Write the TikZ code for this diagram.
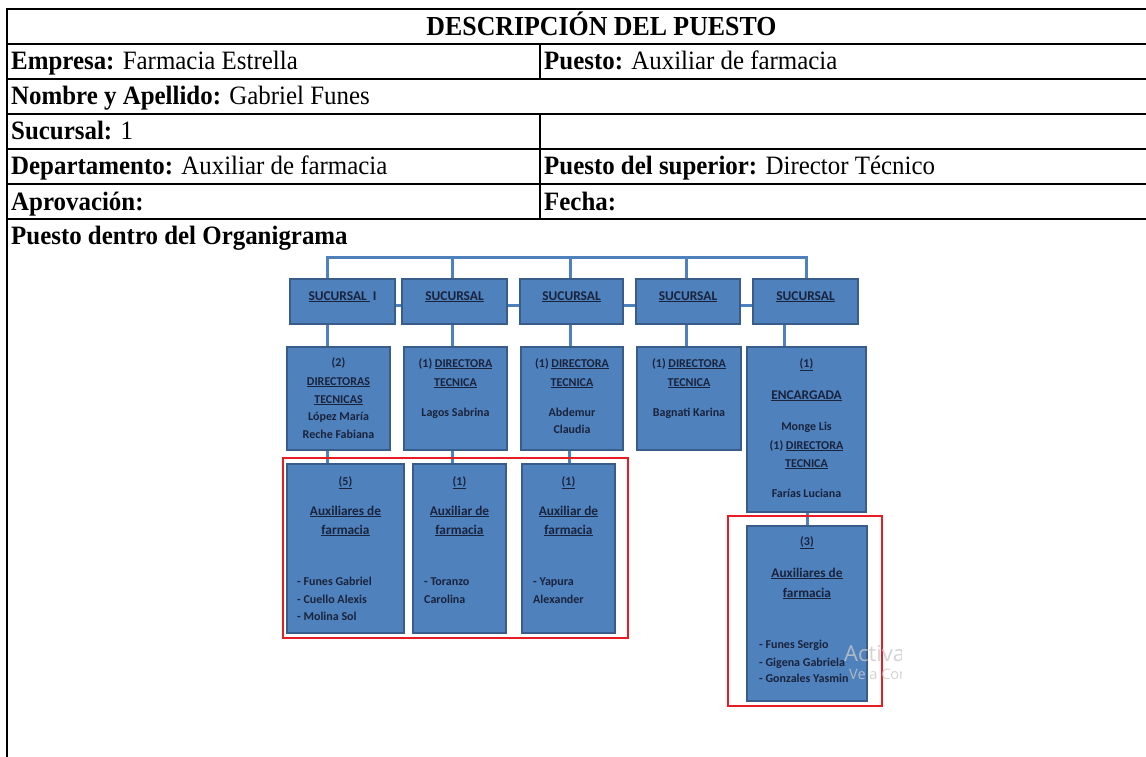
\documentclass[tikz,border=0pt]{standalone}
\usepackage{fontspec}
\setmainfont[FakeStretch=0.94]{Liberation Serif}
\newfontfamily\calfont{Carlito}
\newfontfamily\wmfont{Open Sans}
\definecolor{boxfill}{RGB}{79,129,189}
\definecolor{boxedge}{RGB}{56,93,138}
\definecolor{conncol}{RGB}{79,129,189}
\definecolor{boxtext}{RGB}{25,35,60}
\definecolor{redline}{RGB}{232,28,36}
\definecolor{wmgray}{RGB}{200,200,200}
\newcommand{\tabfont}{\fontsize{26.5}{26.5}\selectfont}
\newcommand{\titfont}{\fontsize{27.5}{27.5}\selectfont}
\newcommand{\orgfont}{\calfont\bfseries\fontsize{12}{12}\selectfont}
\newcommand{\orgbig}{\calfont\bfseries\fontsize{13.3}{13.3}\selectfont}
\newcommand{\orgtop}{\calfont\bfseries\fontsize{13.4}{13.4}\selectfont}
\begin{document}
\begin{tikzpicture}[x=1pt,y=-1pt,
  grid/.style={line width=1.6pt, black},
  cell/.style={anchor=base west, inner sep=0pt, font=\tabfont, text=black},
  orgbox/.style={rectangle, draw=boxedge, fill=boxfill, line width=1.5pt, inner sep=0pt},
  conn/.style={draw=conncol, line width=3pt},
  redbox/.style={draw=redline, line width=2.6pt},
  lbl/.style={inner sep=0pt, text=boxtext, font=\orgfont, text height=8.5pt, text depth=2.5pt},
  lblbig/.style={lbl, font=\orgbig},
  lbltop/.style={lbl, font=\orgtop},
  lbll/.style={lbl, anchor=west},
  wm/.style={anchor=west, inner sep=0pt, text=wmgray, opacity=0.8}]
\useasboundingbox (0,0) rectangle (1146,757);
\fill[white] (0,0) rectangle (1146,757);

% ---- table grid ----
\foreach \yy in {9,44,79,114,149,184,219}
  \draw[grid] (6.2,\yy) -- (1146,\yy);
\draw[grid] (7,8.2) -- (7,757);
\draw[grid] (540,44) -- (540,79);
\draw[grid] (540,114) -- (540,219);

% ---- table texts ----
\node[cell, anchor=base, font=\titfont] (title) at (601.5,35.5) {\textbf{DESCRIPCIÓN DEL PUESTO}};
\node[cell] (emp) at (11,70) {\textbf{Empresa:} Farmacia Estrella};
\node[cell] (pue) at (544,70) {\textbf{Puesto:} Auxiliar de farmacia};
\node[cell] (nom) at (11,105) {\textbf{Nombre y Apellido:} Gabriel Funes};
\node[cell] (suc) at (11,140) {\textbf{Sucursal:} 1};
\node[cell] (dep) at (11,175) {\textbf{Departamento:} Auxiliar de farmacia};
\node[cell] (sup) at (544,175) {\textbf{Puesto del superior:} Director Técnico};
\node[cell] (apr) at (11,210) {\textbf{Aprovación:}};
\node[cell] (fec) at (544,210) {\textbf{Fecha:}};
\node[cell] (org) at (11,244) {\textbf{Puesto dentro del Organigrama}};

% ---- org chart boxes ----
\node[orgbox, minimum width=105pt, minimum height=45pt] (b1) at (342.5,301.5) {};
\node[orgbox, minimum width=105pt, minimum height=45pt] (b2) at (454.5,301.5) {};
\node[orgbox, minimum width=103pt, minimum height=45pt] (b3) at (571.5,301.5) {};
\node[orgbox, minimum width=104pt, minimum height=45pt] (b4) at (688,301.5) {};
\node[orgbox, minimum width=105pt, minimum height=45pt] (b5) at (805.5,301.5) {};

\node[orgbox, minimum width=103pt, minimum height=103pt] (d1) at (338.5,398.5) {};
\node[orgbox, minimum width=103pt, minimum height=103pt] (d2) at (455.5,398.5) {};
\node[orgbox, minimum width=102pt, minimum height=103pt] (d3) at (572,398.5) {};
\node[orgbox, minimum width=104pt, minimum height=103pt] (d4) at (689,398.5) {};
\node[orgbox, minimum width=119pt, minimum height=165pt] (d5) at (806.5,429.5) {};

\node[orgbox, minimum width=117pt, minimum height=169pt] (a1) at (345.5,548.5) {};
\node[orgbox, minimum width=93pt, minimum height=169pt] (a2) at (459.5,548.5) {};
\node[orgbox, minimum width=93pt, minimum height=169pt] (a3) at (568.5,548.5) {};
\node[orgbox, minimum width=120pt, minimum height=175pt] (a5) at (807,613.5) {};

% ---- connectors ----
\coordinate (bus1) at (327,257);
\coordinate (bus2) at (452,257);
\coordinate (bus3) at (570,257);
\coordinate (bus4) at (686,257);
\coordinate (bus5) at (806,257);
\draw[conn] ([xshift=-1.5pt]bus1) -- ([xshift=1.5pt]bus5);
\draw[conn] (bus1) -- (bus1 |- b1.north);
\draw[conn] (bus2) -- (bus2 |- b2.north);
\draw[conn] (bus3) -- (bus3 |- b3.north);
\draw[conn] (bus4) -- (bus4 |- b4.north);
\draw[conn] (bus5) -- (bus5 |- b5.north);
\draw[conn] (b1.east |- 0,305) -- (b2.west |- 0,305);
\draw[conn] (b2.east |- 0,305) -- (b3.west |- 0,305);
\draw[conn] (b3.east |- 0,305) -- (b4.west |- 0,305);
\draw[conn] (b4.east |- 0,305) -- (b5.west |- 0,305);
\draw[conn] (b1.south -| bus1) -- (d1.north -| bus1);
\draw[conn] (b2.south -| bus2) -- (d2.north -| bus2);
\draw[conn] (b3.south -| bus3) -- (d3.north -| bus3);
\draw[conn] (b4.south -| bus4) -- (d4.north -| bus4);
\draw[conn] (b5.south -| 784,0) -- (d5.north -| 784,0);
\draw[conn] (d1.south -| bus1) -- (a1.north -| bus1);
\draw[conn] (d2.south -| bus2) -- (a2.north -| bus2);
\draw[conn] (d3.south -| 569,0) -- (a3.north -| 569,0);
\draw[conn] (d5.south -| 807,0) -- (a5.north -| 807,0);

% ---- red frames ----
\draw[redbox] (283,458) rectangle (628,638);
\draw[redbox] (728,516) rectangle (882,706);

% ---- box texts ----
\node[lbltop] (t-b1) at (342.5,297) {\underline{SUCURSAL~}~I};
\node[lbltop] (t-b2) at (454.5,297) {\underline{SUCURSAL}};
\node[lbltop] (t-b3) at (571.5,297) {\underline{SUCURSAL}};
\node[lbltop] (t-b4) at (688,297) {\underline{SUCURSAL}};
\node[lbltop] (t-b5) at (805.5,297) {\underline{SUCURSAL}};

\node[lbl] (t-d1a) at (338.5,363) {(2)};
\node[lbl] (t-d1b) at (338.5,382) {\underline{DIRECTORAS}};
\node[lbl] (t-d1c) at (338.5,400) {\underline{TECNICAS}};
\node[lbl] (t-d1d) at (338.5,417) {López María};
\node[lbl] (t-d1e) at (338.5,435) {Reche Fabiana};

\node[lbl] (t-d2a) at (455.5,364) {(1) \underline{DIRECTORA}};
\node[lbl] (t-d2b) at (455.5,383) {\underline{TECNICA}};
\node[lbl] (t-d2c) at (455.5,413) {Lagos Sabrina};

\node[lbl] (t-d3a) at (572,364) {(1) \underline{DIRECTORA}};
\node[lbl] (t-d3b) at (572,383) {\underline{TECNICA}};
\node[lbl] (t-d3c) at (572,413) {Abdemur};
\node[lbl] (t-d3d) at (572,430) {Claudia};

\node[lbl] (t-d4a) at (689,364) {(1) \underline{DIRECTORA}};
\node[lbl] (t-d4b) at (689,383) {\underline{TECNICA}};
\node[lbl] (t-d4c) at (689,413) {Bagnati Karina};

\node[lbl] (t-d5a) at (806.5,364) {\underline{(1)}};
\node[lblbig] (t-d5b) at (806.5,396) {\underline{ENCARGADA}};
\node[lbl] (t-d5c) at (806.5,427) {Monge Lis};
\node[lbl] (t-d5d) at (806.5,446) {(1) \underline{DIRECTORA}};
\node[lbl] (t-d5e) at (806.5,464) {\underline{TECNICA}};
\node[lbl] (t-d5f) at (806.5,494) {Farías Luciana};

\node[lbl] (t-a1a) at (345.5,482) {\underline{(5)}};
\node[lblbig] (t-a1b) at (345.5,512) {\underline{Auxiliares de}};
\node[lblbig] (t-a1c) at (345.5,531) {\underline{farmacia}};
\node[lbll] (t-a1d) at (297,582) {- Funes Gabriel};
\node[lbll] (t-a1e) at (297,600) {- Cuello Alexis};
\node[lbll] (t-a1f) at (297,617) {- Molina Sol};

\node[lbl] (t-a2a) at (459.5,482) {\underline{(1)}};
\node[lblbig] (t-a2b) at (459.5,512) {\underline{Auxiliar de}};
\node[lblbig] (t-a2c) at (459.5,531) {\underline{farmacia}};
\node[lbll] (t-a2d) at (424,582) {- Toranzo};
\node[lbll] (t-a2e) at (424,600) {Carolina};

\node[lbl] (t-a3a) at (568.5,482) {\underline{(1)}};
\node[lblbig] (t-a3b) at (568.5,512) {\underline{Auxiliar de}};
\node[lblbig] (t-a3c) at (568.5,531) {\underline{farmacia}};
\node[lbll] (t-a3d) at (533,582) {- Yapura};
\node[lbll] (t-a3e) at (533,600) {Alexander};

\node[lbl] (t-a5a) at (807,542) {\underline{(3)}};
\node[lblbig] (t-a5b) at (807,574) {\underline{Auxiliares de}};
\node[lblbig] (t-a5c) at (807,594) {\underline{farmacia}};
\node[lbll] (t-a5d) at (759,645) {- Funes Sergio};
\node[lbll] (t-a5e) at (759,663) {- Gigena Gabriela};
\node[lbll] (t-a5f) at (759,679) {- Gonzales Yasmin};

% ---- watermark (clipped) ----
\begin{scope}
  \clip (840,630) rectangle (901,695);
  \node[wm, font=\wmfont\fontsize{22}{22}\selectfont] (wm1) at (844,653) {Activar Windows};
  \node[wm, font=\wmfont\fontsize{14.5}{14.5}\selectfont] (wm2) at (849,676) {Ve a Configuración};
\end{scope}
\end{tikzpicture}
\end{document}
